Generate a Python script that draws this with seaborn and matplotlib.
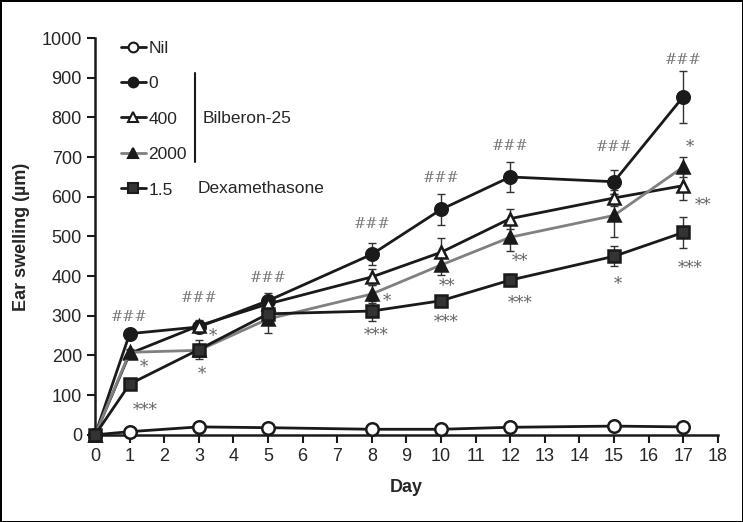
import numpy as np
import pandas as pd
import matplotlib
matplotlib.use("Agg")
import matplotlib.pyplot as plt
import seaborn as sns
from matplotlib.lines import Line2D

sns.set_style("ticks")
plt.rcParams['font.family'] = ['Liberation Sans', 'DejaVu Sans']

# data
days = [0, 1, 3, 5, 8, 10, 12, 15, 17]
nil = [0, 8, 20, 18, 14, 14, 19, 22, 20]
b0 = [0, 255, 272, 338, 455, 568, 650, 638, 852]
b0_err = [0, 10, 15, 20, 28, 40, 37, 30, 65]
b400 = [0, 205, 275, 330, 398, 460, 545, 597, 628]
b400_err = [0, 8, 15, 15, 20, 35, 25, 20, 35]
b2000 = [0, 208, 213, 292, 355, 428, 498, 553, 675]
b2000_err = [0, 8, 15, 35, 22, 25, 35, 55, 25]
dex = [0, 128, 215, 305, 312, 338, 390, 450, 510]
dex_err = [0, 10, 25, 25, 25, 12, 15, 25, 40]

hash_days = [1, 3, 5, 8, 10, 12, 15, 17]
hash_y = [297, 345, 395, 531, 647, 728, 725, 945]
star_x = [1.4, 1.45, 3.4, 3.1, 8.44, 8.12, 10.17, 10.14, 12.28, 12.28, 15.1, 17.2, 17.57, 17.2]
star_y = [169, 61, 247, 153, 335, 250, 375, 282, 436, 332, 378, 725, 577, 418]
star_txt = ['*', '***', '*', '*', '*', '***', '**', '***', '**', '***', '*', '*', '**', '***']

series = [
    ("Nil", nil, None, 'o', 'white', '#1a1a1a'),
    ("0", b0, b0_err, 'o', '#1a1a1a', '#1a1a1a'),
    ("400", b400, b400_err, '^', 'white', '#1a1a1a'),
    ("2000", b2000, b2000_err, '^', '#1a1a1a', '#808080'),
    ("1.5", dex, dex_err, 's', '#333333', '#1a1a1a'),
]

fig = plt.figure(figsize=(7.43, 5.22), dpi=100, linewidth=2, edgecolor='black')
ax = fig.add_axes([0.128, 0.167, 0.838, 0.76])

handles = []
for name, vals, err, mk, fc, lc in series:
    df = pd.DataFrame({'Day': days, 'val': vals})
    sns.lineplot(data=df, x='Day', y='val', ax=ax, color=lc, lw=2,
                 marker=mk, markersize=9 if mk != 's' else 8,
                 markerfacecolor=fc, markeredgecolor='#1a1a1a', markeredgewidth=1.8,
                 clip_on=False, zorder=3)
    if err is not None:
        ax.errorbar(days[1:], vals[1:], yerr=err[1:], fmt='none', ecolor='#333333',
                    elinewidth=1, capsize=3, capthick=1, zorder=2)
    handles.append(Line2D([], [], color=lc, lw=2, marker=mk, markersize=7,
                          markerfacecolor=fc, markeredgecolor='#1a1a1a',
                          markeredgewidth=1.5, label=name))

for d, y in zip(hash_days, hash_y):
    ax.text(d, y, '###', ha='center', va='center', fontsize=10.5, color='#777777',
            family='DejaVu Serif')
for x, y, t in zip(star_x, star_y, star_txt):
    ax.text(x, y, t, ha='center', va='center', fontsize=12, color='#666666',
            family='DejaVu Serif')

leg = ax.legend(handles=handles, loc='upper left', bbox_to_anchor=(0.042, 0.994),
                frameon=False, fontsize=12.5, handlelength=1.4, handletextpad=0.15,
                labelspacing=1.17, borderaxespad=0, borderpad=0)
ax.plot([0.1605, 0.1605], [0.688, 0.912], transform=ax.transAxes, color='#1a1a1a', lw=1.5)
ax.text(0.172, 0.798, 'Bilberon-25', transform=ax.transAxes, fontsize=12.5,
        va='center', ha='left')
ax.text(0.164, 0.622, 'Dexamethasone', transform=ax.transAxes, fontsize=12.5,
        va='center', ha='left')

ax.set_xlim(0, 18)
ax.set_ylim(0, 1000)
ax.set_xticks(range(0, 19))
ax.set_yticks(range(0, 1001, 100))
ax.tick_params(axis='both', labelsize=13, length=6, width=1.5, color='#1a1a1a')
ax.set_xlabel('Day', fontsize=13, fontweight='bold', labelpad=10)
ax.set_ylabel('Ear swelling (µm)', fontsize=13, fontweight='bold', labelpad=8)
for s in ['left', 'bottom']:
    ax.spines[s].set_linewidth(1.8)
    ax.spines[s].set_color('#1a1a1a')
sns.despine(ax=ax)

fig.savefig('out.png', dpi=100)
